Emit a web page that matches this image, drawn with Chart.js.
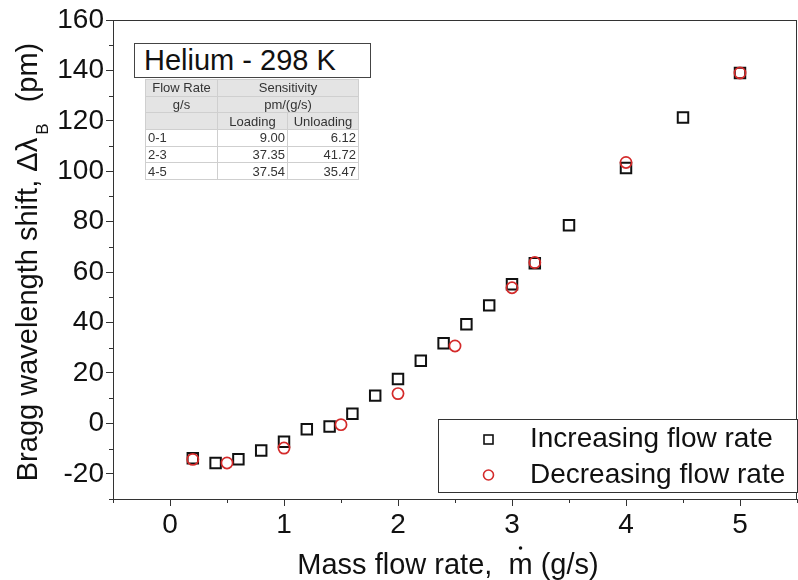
<!DOCTYPE html>
<html>
<head>
<meta charset="utf-8">
<script src="https://cdn.jsdelivr.net/npm/chart.js@4.4.0/dist/chart.umd.min.js"></script>
<style>
  body { margin: 0; background: #fff; }
  #wrap { position: relative; width: 798px; height: 580px; font-family: 'Liberation Sans', Arial, sans-serif; }
  #chart { position: absolute; left: 0; top: 0; }
  #title { position: absolute; left: 134px; top: 43px; width: 226px; height: 33px; border: 1.5px solid #444;
           background: #fff; font-size: 29px; line-height: 33px; padding-left: 9px; color: #111; }
  #sens { position: absolute; left: 145px; top: 79px; border-collapse: collapse; font-size: 13px; color: #333; }
  #sens td { border: 1px solid #cfcfcf; height: 15.7px; padding: 0 2px; line-height: 15px; }
  #sens tr.hd td { background: #e4e4e4; text-align: center; }
  #sens td.n { text-align: right; }
</style>
</head>
<body>
<div id="wrap">
  <canvas id="chart" width="798" height="580"></canvas>
  <div id="title">Helium - 298 K</div>
  <table id="sens">
    <tr class="hd"><td style="width:67px">Flow Rate</td><td colspan="2">Sensitivity</td></tr>
    <tr class="hd"><td>g/s</td><td colspan="2">pm/(g/s)</td></tr>
    <tr class="hd"><td></td><td style="width:65px">Loading</td><td style="width:66px">Unloading</td></tr>
    <tr><td>0-1</td><td class="n">9.00</td><td class="n">6.12</td></tr>
    <tr><td>2-3</td><td class="n">37.35</td><td class="n">41.72</td></tr>
    <tr><td>4-5</td><td class="n">37.54</td><td class="n">35.47</td></tr>
  </table>
</div>
<script>
// Data
const incFlow  = [0.2, 0.4, 0.6, 0.8, 1.0, 1.2, 1.4, 1.6, 1.8, 2.0, 2.2, 2.4, 2.6, 2.8, 3.0, 3.2, 3.5, 4.0, 4.5, 5.0];
const incShift = [-13.8, -15.7, -14.2, -10.8, -7.3, -2.3, -1.2, 3.8, 11, 17.6, 24.8, 31.8, 39.3, 46.8, 55.2, 63.5, 78.6, 101.3, 121.3, 139];
const decFlow  = [0.2, 0.5, 1.0, 1.5, 2.0, 2.5, 3.0, 3.2, 4.0, 5.0];
const decShift = [-14.3, -15.7, -9.8, -0.5, 11.8, 30.7, 53.8, 63.8, 103.5, 139];
const xTicks = [0, 1, 2, 3, 4, 5];
const yTicks = [-20, 0, 20, 40, 60, 80, 100, 120, 140, 160];
const legendLabels = ['Increasing flow rate', 'Decreasing flow rate'];

const FONT = "'Liberation Sans', Arial, sans-serif";
const RED = '#d42a2a';
const AXIS = '#333';

const toPoints = (xs, ys) => xs.map((x, i) => ({ x: x, y: ys[i] }));

// frame, minor ticks, axis titles and legend
const overlay = {
    id: 'overlay',
    afterDraw(chart) {
        const ctx = chart.ctx;
        const a = chart.chartArea;
        const xs = chart.scales.x, ys = chart.scales.y;
        ctx.save();
        ctx.strokeStyle = AXIS;
        ctx.lineWidth = 1;
        ctx.strokeRect(a.left + 0.5, a.top + 0.5, a.right - a.left - 1, a.bottom - a.top);

        // minor ticks
        ctx.beginPath();
        for (let v = -0.5; v <= 5.5; v += 1) {
            const px = Math.round(xs.getPixelForValue(v)) + 0.5;
            ctx.moveTo(px, a.bottom); ctx.lineTo(px, a.bottom + 4);
        }
        for (let v = -30; v <= 150; v += 20) {
            const py = Math.round(ys.getPixelForValue(v)) + 0.5;
            ctx.moveTo(a.left, py); ctx.lineTo(a.left - 4, py);
        }
        ctx.stroke();

        // x title, dot over the m drawn by hand
        ctx.fillStyle = '#111';
        ctx.font = '29px ' + FONT;
        ctx.textBaseline = 'alphabetic';
        ctx.textAlign = 'left';
        const p1 = 'Mass flow rate,  ', p2 = 'm', p3 = ' (g/s)';
        const wa = ctx.measureText(p1).width, wm = ctx.measureText(p2).width, wc = ctx.measureText(p3).width;
        let tx = 448 - (wa + wm + wc) / 2;
        const base = 574;
        ctx.fillText(p1, tx, base);
        ctx.fillText(p2, tx + wa, base);
        ctx.fillText(p3, tx + wa + wm, base);
        ctx.beginPath();
        ctx.arc(tx + wa + wm / 2, base - 26, 1.8, 0, Math.PI * 2);
        ctx.fill();

        // y title with subscript
        ctx.save();
        ctx.translate(27, 262);
        ctx.rotate(-Math.PI / 2);
        const main = 'Bragg wavelength shift, \u0394\u03BB';
        const tail = '   (pm)';
        ctx.font = '29px ' + FONT;
        const w1 = ctx.measureText(main).width;
        ctx.font = '17px ' + FONT;
        const wb = ctx.measureText('B').width;
        ctx.font = '29px ' + FONT;
        const w2 = ctx.measureText(tail).width;
        let x0 = -(w1 + wb + w2) / 2;
        ctx.textAlign = 'left';
        ctx.textBaseline = 'alphabetic';
        ctx.fillText(main, x0, 10);
        ctx.font = '17px ' + FONT;
        ctx.fillText('B', x0 + w1 + 3, 21);
        ctx.font = '29px ' + FONT;
        ctx.fillText(tail, x0 + w1 + wb, 10);
        ctx.restore();

        // legend
        ctx.fillStyle = '#fff';
        ctx.fillRect(438, 419, a.right - 438, 73);
        ctx.strokeStyle = AXIS;
        ctx.lineWidth = 1;
        ctx.strokeRect(438.5, 419.5, a.right - 438, 73);
        ctx.lineWidth = 1.6;
        ctx.strokeStyle = '#111';
        ctx.strokeRect(484, 435, 9, 9);
        ctx.strokeStyle = RED;
        ctx.beginPath();
        ctx.arc(488.5, 475, 5, 0, Math.PI * 2);
        ctx.stroke();
        ctx.fillStyle = '#111';
        ctx.font = '28px ' + FONT;
        ctx.textAlign = 'left';
        ctx.textBaseline = 'middle';
        ctx.fillText(legendLabels[0], 530, 439);
        ctx.fillText(legendLabels[1], 530, 475);
        ctx.restore();
    }
};

new Chart(document.getElementById('chart'), {
    type: 'scatter',
    data: {
        datasets: [
            {
                label: legendLabels[0],
                data: toPoints(incFlow, incShift),
                pointStyle: 'rect',
                pointRadius: 7.4,
                borderColor: '#111',
                backgroundColor: 'rgba(0,0,0,0)',
                borderWidth: 2,
                order: 2
            },
            {
                label: legendLabels[1],
                data: toPoints(decFlow, decShift),
                pointStyle: 'circle',
                pointRadius: 5.6,
                borderColor: RED,
                backgroundColor: 'rgba(0,0,0,0)',
                borderWidth: 1.7,
                order: 1
            }
        ]
    },
    options: {
        responsive: false,
        animation: false,
        layout: { autoPadding: false, padding: { top: 20, right: 1, left: 0, bottom: 0 } },
        plugins: { legend: { display: false }, tooltip: { enabled: false } },
        scales: {
            x: {
                type: 'linear',
                min: -0.5,
                max: 5.5,
                afterBuildTicks: s => { s.ticks = xTicks.map(v => ({ value: v })); },
                afterFit: s => { s.height = 81; },
                border: { color: AXIS },
                grid: { drawOnChartArea: false, tickLength: 7, color: AXIS },
                ticks: { color: '#111', font: { family: FONT, size: 28 }, padding: 2, maxRotation: 0 }
            },
            y: {
                type: 'linear',
                min: -30,
                max: 160,
                afterBuildTicks: s => { s.ticks = yTicks.map(v => ({ value: v })); },
                afterFit: s => { s.width = 113; },
                border: { color: AXIS },
                grid: { drawOnChartArea: false, tickLength: 7, color: AXIS },
                ticks: { color: '#111', font: { family: FONT, size: 28 }, padding: 2 }
            }
        }
    },
    plugins: [overlay]
});
</script>
</body>
</html>
